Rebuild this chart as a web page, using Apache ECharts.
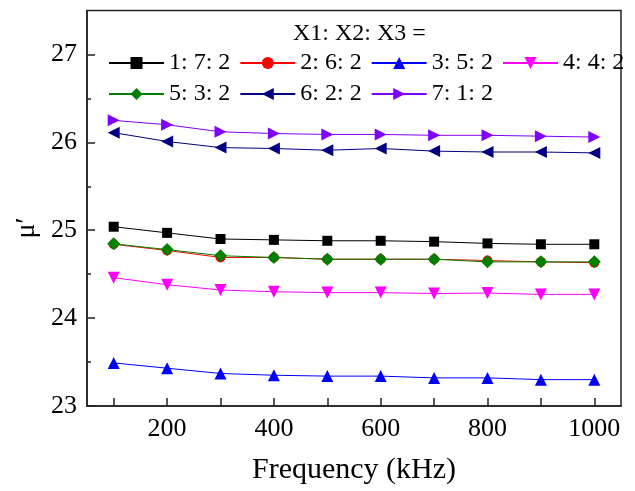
<!DOCTYPE html>
<html>
<head>
<meta charset="utf-8">
<script src="https://cdn.jsdelivr.net/npm/echarts@6/dist/echarts.min.js"></script>
<style>
  html, body { margin: 0; padding: 0; background: #fff; }
  #chart { width: 635px; height: 491px; }
</style>
</head>
<body>
<div id="chart"></div>
<script>
// Frequency points (kHz)
const freq = [100, 200, 300, 400, 500, 600, 700, 800, 900, 1000];

// Real permeability μ′ for each X1:X2:X3 ratio
const ratio172 = [25.04, 24.97, 24.90, 24.89, 24.88, 24.88, 24.87, 24.85, 24.84, 24.84];
const ratio262 = [24.84, 24.77, 24.69, 24.69, 24.67, 24.67, 24.67, 24.655, 24.64, 24.63];
const ratio352 = [23.49, 23.43, 23.37, 23.35, 23.34, 23.34, 23.32, 23.32, 23.30, 23.30];
const ratio442 = [24.46, 24.38, 24.32, 24.30, 24.29, 24.29, 24.28, 24.285, 24.27, 24.27];
const ratio532 = [24.845, 24.78, 24.71, 24.69, 24.67, 24.67, 24.67, 24.64, 24.64, 24.64];
const ratio622 = [26.11, 26.01, 25.94, 25.93, 25.91, 25.93, 25.90, 25.89, 25.89, 25.88];
const ratio712 = [26.25, 26.20, 26.12, 26.10, 26.09, 26.09, 26.08, 26.08, 26.07, 26.06];

const seriesNames = ['1: 7: 2', '2: 6: 2', '3: 5: 2', '4: 4: 2', '5: 3: 2', '6: 2: 2', '7: 1: 2'];
const seriesValues = [ratio172, ratio262, ratio352, ratio442, ratio532, ratio622, ratio712];

// Axis ticks and labels
const xTicks = [100, 200, 300, 400, 500, 600, 700, 800, 900, 1000];
const xLabels = [200, 400, 600, 800, 1000];
const yLabels = [23, 24, 25, 26, 27];
const yMinorTicks = [23.5, 24.5, 25.5, 26.5];

const FONT = '"Liberation Serif", "Times New Roman", serif';

const styles = [
  { color: '#000000', symbol: 'rect', size: 10, rotate: 0 },
  { color: '#ff0000', symbol: 'circle', size: 10, rotate: 0 },
  { color: '#0000ff', symbol: 'triangle', size: 12, rotate: 0 },
  { color: '#ff00ff', symbol: 'triangle', size: 12, rotate: 180 },
  { color: '#008000', symbol: 'diamond', size: 13, rotate: 0 },
  { color: '#000080', symbol: 'triangle', size: 12, rotate: 90 },
  { color: '#8000ff', symbol: 'triangle', size: 12, rotate: -90 }
];

const series = seriesNames.map((name, i) => ({
  name: name,
  type: 'line',
  data: freq.map((f, j) => [f, seriesValues[i][j]]),
  symbol: styles[i].symbol,
  symbolSize: styles[i].size,
  symbolRotate: styles[i].rotate,
  lineStyle: { color: styles[i].color, width: 1 },
  itemStyle: { color: styles[i].color },
  animation: false
}));

// Minor y ticks drawn on a companion axis
series.push({
  type: 'line', yAxisIndex: 1, data: [], silent: true
});

const legendCommon = {
  orient: 'horizontal',
  itemWidth: 55,
  itemHeight: 15,
  itemGap: 9,
  textStyle: { fontFamily: FONT, fontSize: 24, color: '#000' },
  selectedMode: false
};

const chart = echarts.init(document.getElementById('chart'), null, { renderer: 'canvas' });
chart.setOption({
  backgroundColor: '#fff',
  animation: false,
  title: {
    text: 'X1: X2: X3 =',
    left: 288,
    top: 17,
    textStyle: { fontFamily: FONT, fontSize: 24, fontWeight: 'normal', color: '#000' }
  },
  legend: [
    Object.assign({}, legendCommon, { left: 103, top: 46, data: seriesNames.slice(0, 4) }),
    Object.assign({}, legendCommon, { left: 103, top: 77, data: seriesNames.slice(4) })
  ],
  graphic: [{
    type: 'text',
    x: 27, y: 228,
    rotation: Math.PI / 2,
    style: {
      text: 'μ′',
      fontFamily: FONT,
      fontSize: 28,
      fill: '#000',
      align: 'center',
      verticalAlign: 'middle'
    }
  }],
  grid: {
    left: 87, right: 14, top: 10.5, bottom: 85,
    show: true, borderColor: '#222', borderWidth: 1.5,
    containLabel: false
  },
  xAxis: {
    type: 'value',
    min: 50, max: 1050,
    name: 'Frequency (kHz)',
    nameLocation: 'middle',
    nameGap: 49,
    nameTextStyle: { fontFamily: FONT, fontSize: 30, color: '#000' },
    axisLine: { show: true, onZero: false, lineStyle: { color: '#222', width: 1.5 } },
    axisTick: { show: true, inside: true, length: 8, customValues: xTicks, lineStyle: { color: '#222', width: 1.5 } },
    axisLabel: {
      customValues: xLabels, margin: 10,
      formatter: (v) => String(v),
      fontFamily: FONT, fontSize: 26, color: '#000'
    },
    splitLine: { show: false }
  },
  yAxis: [{
    type: 'value',
    min: 23, max: 27.5,
    axisLine: { show: true, onZero: false, lineStyle: { color: '#222', width: 1.5 } },
    axisTick: { show: true, inside: true, length: 8, customValues: yLabels, lineStyle: { color: '#222', width: 1.5 } },
    axisLabel: {
      customValues: yLabels, margin: 10,
      formatter: (v) => String(v),
      fontFamily: FONT, fontSize: 26, color: '#000'
    },
    splitLine: { show: false }
  }, {
    type: 'value',
    position: 'left',
    min: 23, max: 27.5,
    axisLine: { show: false },
    axisTick: { show: true, inside: true, length: 4, customValues: yMinorTicks, lineStyle: { color: '#222', width: 1.5 } },
    axisLabel: { show: false },
    splitLine: { show: false }
  }],
  series: series
});
</script>
</body>
</html>
